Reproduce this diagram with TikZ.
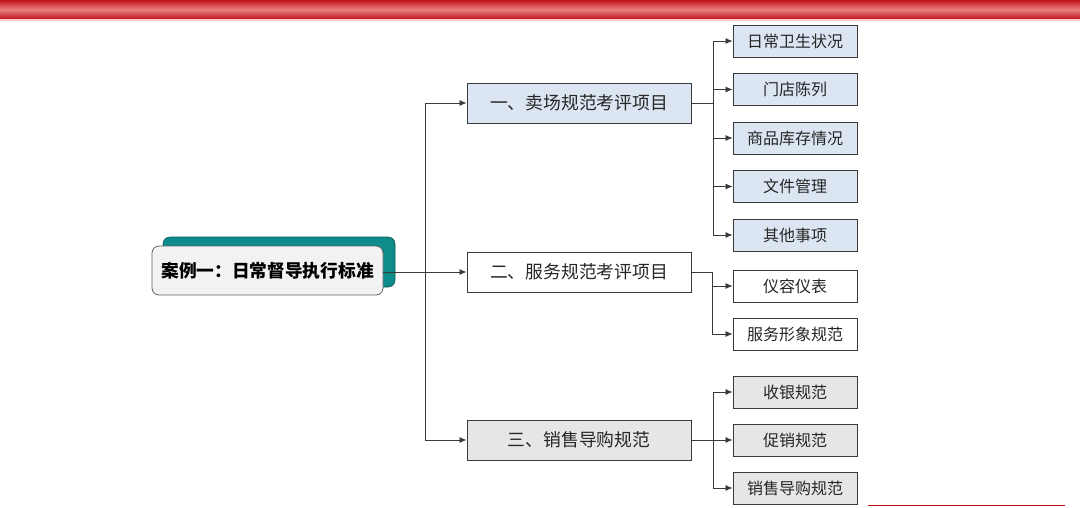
\documentclass[tikz,border=0pt]{standalone}
\usepackage{fontspec}
\newfontfamily\cjk{Noto Sans CJK SC}
\usetikzlibrary{arrows.meta,shadings}
\definecolor{redD}{HTML}{C0141C}
\definecolor{redL}{HTML}{E88080}
\definecolor{teal1}{HTML}{0E8C8C}
\definecolor{lineC}{HTML}{3A3A3A}
\definecolor{blueF}{HTML}{DCE6F2}
\definecolor{grayF}{HTML}{E6E6E6}
\definecolor{txt}{HTML}{262626}
\tikzset{
  lvone/.style={draw=lineC, line width=0.9pt, minimum width=224pt, minimum height=40pt, inner sep=0pt, font=\cjk\fontsize{17.8}{20}\selectfont, text=txt},
  lvtwo/.style={draw=lineC, line width=0.9pt, minimum width=124pt, minimum height=32pt, inner sep=0pt, font=\cjk\fontsize{16}{19}\selectfont, text=txt},
  conn/.style={draw=lineC, line width=0.8pt},
  arr/.style={conn, -{Latex[length=7pt,width=6pt]}},
}
\begin{document}
\begin{tikzpicture}[x=1pt,y=-1pt]
\useasboundingbox (0,0) rectangle (1080,507);
% top red bar
\shade[top color=redD, bottom color=redD, middle color=redL] (0,0) rectangle (1080,19);
\fill[red!20] (0,19) rectangle (1080,21);
% bottom red line
\draw[redD, line width=1.3pt] (868,505.5) -- (1065,505.5);
% root
\fill[teal1, draw=teal1!60!black, line width=0.6pt, rounded corners=7pt] (163,237) rectangle (395,287);
\node[draw=lineC!80, line width=0.8pt, fill=black!5, rounded corners=7pt, minimum width=231pt, minimum height=49pt, inner sep=0pt, font=\cjk\bfseries\fontsize{17.7}{20}\selectfont, text=black] (root) at (267.5,270.5) {案例一：日常督导执行标准};
% level 1
\node[lvone, fill=blueF] (a) at (579,103) {一、卖场规范考评项目};
\node[lvone, fill=white] (b) at (579,272) {二、服务规范考评项目};
\node[lvone, fill=grayF] (c) at (579,440) {三、销售导购规范};
% level 2
\node[lvtwo, fill=blueF] (a1) at (795,41) {日常卫生状况};
\node[lvtwo, fill=blueF] (a2) at (795,89.5) {门店陈列};
\node[lvtwo, fill=blueF] (a3) at (795,138) {商品库存情况};
\node[lvtwo, fill=blueF] (a4) at (795,186.5) {文件管理};
\node[lvtwo, fill=blueF] (a5) at (795,235) {其他事项};
\node[lvtwo, fill=white] (b1) at (795,286) {仪容仪表};
\node[lvtwo, fill=white] (b2) at (795,334) {服务形象规范};
\node[lvtwo, fill=grayF] (c1) at (795,392) {收银规范};
\node[lvtwo, fill=grayF] (c2) at (795,440) {促销规范};
\node[lvtwo, fill=grayF] (c3) at (795,488) {销售导购规范};
% trunk
\coordinate (t) at (425,272);
\draw[conn] (root.east |- t) -- (t);
\draw[arr] (t) |- (a.west);
\draw[arr] (t) -- (b.west);
\draw[arr] (t) |- (c.west);
% group a
\coordinate (ja) at (713,103);
\draw[conn] (a.east) -- (ja);
\foreach \n in {a1,a2,a3,a4,a5} \draw[arr] (ja) |- (\n.west);
% group b
\coordinate (jb) at (712,272);
\draw[conn] (b.east) -- (jb);
\foreach \n in {b1,b2} \draw[arr] (jb) |- (\n.west);
% group c
\coordinate (jc) at (713,440);
\draw[conn] (c.east) -- (jc);
\foreach \n in {c1,c2,c3} \draw[arr] (jc) |- (\n.west);
\end{tikzpicture}
\end{document}
